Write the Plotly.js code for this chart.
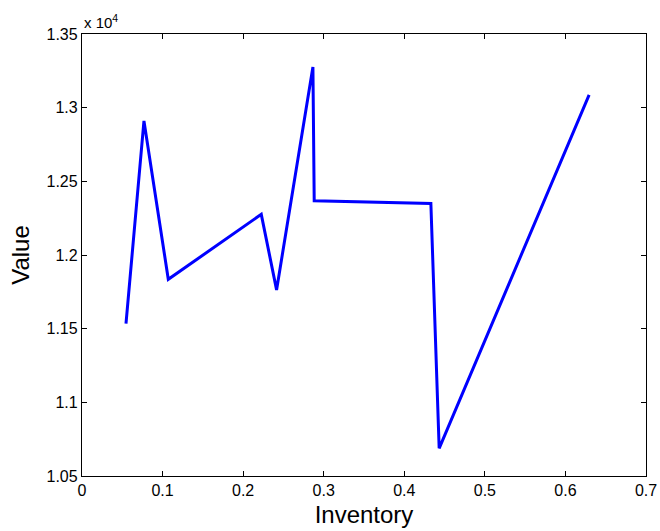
<!DOCTYPE html>
<html><head><meta charset="utf-8">
<script src="https://cdn.plot.ly/plotly-3.0.1.min.js"></script>
<style>html,body{margin:0;padding:0;background:#fff}#chart{width:660px;height:531px}</style>
</head><body><div id="chart"></div>
<script>
const inventory = [0.0546, 0.0769, 0.1071, 0.2225, 0.2415, 0.2866, 0.2882, 0.4330, 0.4433, 0.6294];
const value = [11534, 12910, 11835, 12276, 11763, 13276, 12368, 12350, 10688, 13087];
const yTickVals = [10500, 11000, 11500, 12000, 12500, 13000, 13500];
const yTickText = ['1.05', '1.1', '1.15', '1.2', '1.25', '1.3', '1.35'];
const xTickVals = [0, 0.1, 0.2, 0.3, 0.4, 0.5, 0.6, 0.7];
const xTickText = ['0', '0.1', '0.2', '0.3', '0.4', '0.5', '0.6', '0.7'];

const font = 'Liberation Sans, Arial, sans-serif';
Plotly.newPlot('chart', [{
  x: inventory, y: value, type: 'scatter', mode: 'lines',
  line: {color: '#0000ff', width: 3}
}], {
  width: 660, height: 531,
  margin: {l: 82, r: 14, t: 34, b: 55},
  paper_bgcolor: '#fff', plot_bgcolor: '#fff',
  showlegend: false,
  font: {family: font, color: '#000', size: 16},
  xaxis: {
    range: [0, 0.7], tickvals: xTickVals, ticktext: xTickText,
    ticks: 'inside', ticklen: 5, tickcolor: '#000', showgrid: false, zeroline: false,
    showline: true, linecolor: '#000', linewidth: 1.3, mirror: 'allticks',
    tickfont: {size: 16}, title: {text: 'Inventory', font: {size: 24}, standoff: 7}
  },
  yaxis: {
    range: [10500, 13500], tickvals: yTickVals, ticktext: yTickText,
    ticks: 'inside', ticklen: 5, tickcolor: '#000', showgrid: false, zeroline: false,
    showline: true, linecolor: '#000', linewidth: 1.3, mirror: 'allticks',
    tickfont: {size: 16}, title: {text: 'Value', font: {size: 24}, standoff: 10}
  },
  annotations: [{
    text: 'x 10<sup>4</sup>', xref: 'paper', yref: 'paper', x: 0, y: 1,
    xanchor: 'left', yanchor: 'bottom', showarrow: false, font: {size: 15}, yshift: 1
  }]
}, {displayModeBar: false});
</script></body></html>
